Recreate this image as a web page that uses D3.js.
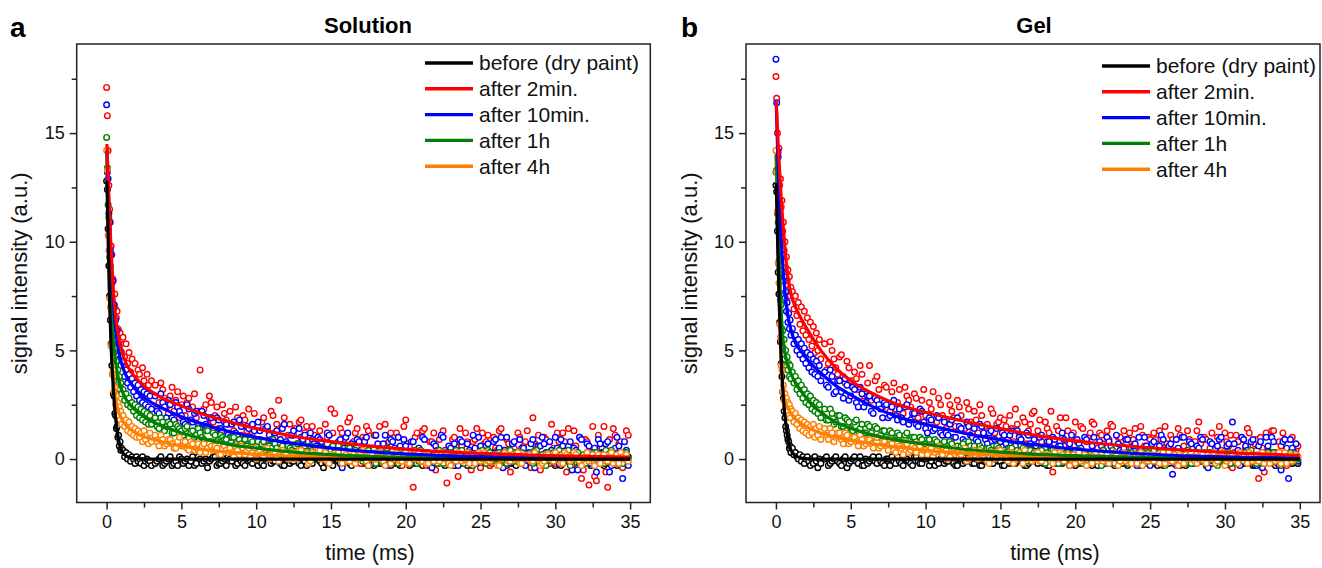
<!DOCTYPE html>
<html>
<head>
<meta charset="utf-8">
<script src="https://cdn.jsdelivr.net/npm/d3@7"></script>
<style>
  body { margin: 0; background: #fff; }
  svg { display: block; font-family: 'Liberation Sans', Arial, sans-serif; }
</style>
</head>
<body>
<svg id="chart" width="1322" height="568"></svg>
<script>
/* global d3 */

const seriesNames = ['before (dry paint)', 'after 2min.', 'after 10min.', 'after 1h', 'after 4h']
const seriesColors = ['#000000', '#ff0000', '#0000ff', '#008000', '#ff8000']
const xMajor = [0, 5, 10, 15, 20, 25, 30, 35]
const xMinor = [2.5, 7.5, 12.5, 17.5, 22.5, 27.5, 32.5]
const yMajor = [0, 5, 10, 15]
const yMinor = [2.5, 7.5, 12.5, 17.5]

// sample times (ms), first pass
const times = [
  0, 0.05, 0.1, 0.15, 0.2, 0.25, 0.3, 0.35, 0.4, 0.45, 0.5, 0.55, 0.6, 0.65, 0.7, 0.75, 0.8, 0.85, 0.9, 0.95, 1,
  1.1, 1.2, 1.3, 1.4, 1.5, 1.6, 1.7, 1.8, 1.9, 2, 2.1, 2.2, 2.3, 2.4, 2.5, 2.6, 2.7, 2.8, 2.9, 3,
  3.25, 3.5, 3.75, 4, 4.25, 4.5, 4.75, 5, 5.25, 5.5, 5.75, 6, 6.25, 6.5, 6.75, 7, 7.25, 7.5, 7.75, 8,
  8.25, 8.5, 8.75, 9, 9.25, 9.5, 9.75, 10, 10.25, 10.5, 10.75, 11, 11.25, 11.5, 11.75, 12,
  12.25, 12.5, 12.75, 13, 13.25, 13.5, 13.75, 14, 14.25, 14.5, 14.75, 15, 15.25, 15.5, 15.75, 16,
  16.25, 16.5, 16.75, 17, 17.25, 17.5, 17.75, 18, 18.25, 18.5, 18.75, 19, 19.25, 19.5, 19.75, 20,
  20.25, 20.5, 20.75, 21, 21.25, 21.5, 21.75, 22, 22.25, 22.5, 22.75, 23, 23.25, 23.5, 23.75, 24,
  24.25, 24.5, 24.75, 25, 25.25, 25.5, 25.75, 26, 26.25, 26.5, 26.75, 27, 27.25, 27.5, 27.75, 28,
  28.25, 28.5, 28.75, 29, 29.25, 29.5, 29.75, 30, 30.25, 30.5, 30.75, 31, 31.25, 31.5, 31.75, 32,
  32.25, 32.5, 32.75, 33, 33.25, 33.5, 33.75, 34, 34.25, 34.5, 34.75
]
// in-between sample times for the tail (ms)
const times2 = [
  3.375, 3.625, 3.875, 4.125, 4.375, 4.625, 4.875, 5.125,
  5.375, 5.625, 5.875, 6.125, 6.375, 6.625, 6.875, 7.125,
  7.375, 7.625, 7.875, 8.125, 8.375, 8.625, 8.875, 9.125,
  9.375, 9.625, 9.875, 10.125, 10.375, 10.625, 10.875, 11.125,
  11.375, 11.625, 11.875, 12.125, 12.375, 12.625, 12.875, 13.125,
  13.375, 13.625, 13.875, 14.125, 14.375, 14.625, 14.875, 15.125,
  15.375, 15.625, 15.875, 16.125, 16.375, 16.625, 16.875, 17.125,
  17.375, 17.625, 17.875, 18.125, 18.375, 18.625, 18.875, 19.125,
  19.375, 19.625, 19.875, 20.125, 20.375, 20.625, 20.875, 21.125,
  21.375, 21.625, 21.875, 22.125, 22.375, 22.625, 22.875, 23.125,
  23.375, 23.625, 23.875, 24.125, 24.375, 24.625, 24.875, 25.125,
  25.375, 25.625, 25.875, 26.125, 26.375, 26.625, 26.875, 27.125,
  27.375, 27.625, 27.875, 28.125, 28.375, 28.625, 28.875, 29.125,
  29.375, 29.625, 29.875, 30.125, 30.375, 30.625, 30.875, 31.125,
  31.375, 31.625, 31.875, 32.125, 32.375, 32.625, 32.875, 33.125,
  33.375, 33.625, 33.875, 34.125, 34.375, 34.625, 34.875
]

// ---- a: Solution, measured points ----
const solBlack = [
  12.8, 12.4, 10.6, 8.9, 7.5, 6.4, 5.3, 4.3, 3.9, 3.0, 2.9, 2.1, 2.0, 1.4, 1.5, 1.0, 1.1, 0.6, 0.8, 0.4, 0.5,
  0.4, 0.1, 0.3, 0.0, 0.2, -0.1, 0.1, 0.0, -0.2, 0.1, -0.1, 0.0, -0.2, 0.1, -0.3, -0.1, 0.0, -0.2, -0.1, -0.3,
  -0.2, 0.0, -0.3, -0.1, 0.1, -0.2, -0.3, 0.0, -0.1, -0.3, 0.1, -0.2, 0.0, -0.1, -0.4, 0.0,
  0.1, -0.2, -0.1, -0.3, 0.0, 0.1, -0.2, -0.1, -0.3, 0.0, -0.2, 0.1, -0.1, -0.3, 0.0, -0.2,
  -0.1, 0.1, -0.3, 0.0, -0.2, -0.1, 0.1, -0.3, -0.1, 0.0, -0.2, 0.1, -0.1, -0.4, 0.0, -0.2,
  0.1, -0.1, -0.3, 0.0, -0.2, 0.1, -0.1, -0.2, 0.0, -0.3, 0.1, -0.1, -0.2, 0.0, -0.1, -0.3,
  0.1, -0.2, 0.0, -0.1, -0.3, 0.1, -0.2, 0.0, -0.1, 0.1, -0.3, -0.1, 0.0, -0.2, 0.1, -0.1,
  -0.3, 0.0, -0.2, 0.1, -0.1, -0.2, 0.0, -0.3, 0.1, -0.1, 0.0, -0.2, -0.1, 0.1, -0.3, 0.0,
  -0.2, -0.1, 0.1, -0.2, 0.0, -0.3, -0.1, 0.1, -0.2, 0.0, -0.1, -0.3, 0.1, -0.2, 0.0, -0.1,
  -0.2, 0.1, -0.3, 0.0, -0.1, -0.2, 0.1, 0.0, -0.3, -0.1, 0.0, -0.2, 0.1, -0.1, -0.2
]
const solBlack2 = [
  -0.1, 0.1, -0.2, 0.0, -0.3, -0.1, 0.1, -0.2, 0.0, -0.1, -0.3, 0.1, -0.2, 0.0, -0.1, 0.1,
  -0.3, -0.2, 0.0, 0.1, -0.1, -0.3, 0.0, -0.2, 0.1, -0.1, 0.0, -0.3, -0.2, 0.1, 0.0, -0.1,
  0.1, -0.2, -0.3, 0.0, -0.1, 0.1, -0.2, 0.0, -0.3, -0.1, 0.1, 0.0, -0.2, -0.1, 0.1, -0.3,
  0.0, -0.2, 0.1, -0.1, -0.3, 0.0, 0.1, -0.2, -0.1, 0.0, -0.3, 0.1, -0.2, -0.1, 0.0, 0.1,
  -0.2, -0.3, 0.0, 0.1, -0.1, -0.2, 0.0, -0.3, 0.1, -0.1, 0.0, -0.2, 0.1, -0.3, -0.1, 0.0,
  0.1, -0.2, -0.1, -0.3, 0.0, 0.1, -0.2, 0.0, -0.1, -0.3, 0.1, -0.2, 0.0, -0.1, 0.1, -0.2,
  -0.3, 0.0, 0.1, -0.1, -0.2, 0.0, -0.3, 0.1, -0.1, -0.2, 0.0, 0.1, -0.3, -0.1, 0.0, -0.2,
  0.1, -0.1, -0.2, 0.0, -0.3, 0.1, -0.1, 0.0, -0.2, -0.1, 0.1, -0.3, 0.0, -0.2, 0.1
]
const solRed = [
  17.1, 15.8, 14.2, 12.6, 11.5, 10.9, 9.8, 9.4, 8.3, 8.2, 7.1, 7.6, 6.9, 6.5, 6.8, 6.0, 5.9, 5.2, 5.8, 5.5, 4.9,
  5.6, 4.7, 5.3, 4.4, 4.9, 4.0, 4.6, 3.7, 4.4, 3.5, 4.1, 3.9, 3.2, 4.2, 3.6, 2.9, 3.9, 3.4, 3.0, 3.6,
  3.4, 2.6, 3.2, 2.4, 2.9, 2.2, 3.1, 2.5, 2.0, 2.8, 2.4, 1.9, 4.1, 2.3, 1.6, 2.6,
  2.0, 1.4, 2.5, 1.8, 2.2, 1.3, 1.9, 1.1, 1.8, 2.3, 1.2, 1.6, 0.9, 1.9, 1.4, 2.2,
  1.0, 2.7, 1.5, 0.6, 1.6, 1.1, 0.5, 1.8, 1.2, 0.4, 1.5, 0.9, 1.3, 0.2, 1.0, 2.3,
  2.1, 0.6, 1.2, 0.1, 1.9, 0.8, 1.4, -0.2, 0.9, 1.3, 0.3, 1.1, 1.5, 0.0, 0.7, 1.2,
  0.4, 1.0, -0.3, 1.8, 0.6, -1.3, 1.2, 0.3, 1.4, 0.0, 0.8, -0.5, 0.9, 1.3, -1.1, 0.5,
  1.0, -0.8, 0.6, 1.2, 0.2, 0.8, 1.4, -0.4, 0.7, 1.1, -0.2, 0.5, 1.3, 0.3, 0.9, -0.6,
  0.5, 1.2, -0.1, 0.8, 0.2, 1.9, 0.6, -0.5, 1.0, 0.3, 1.6, -0.2, 0.8, 1.2, -0.6, 0.4,
  1.3, 0.1, -0.9, 0.9, -1.2, 1.5, -1.0, 0.6, 1.5, -1.3, 0.3, 1.1, 0.7, -0.4, 1.3
]
const solRed2 = [
  2.3, 3.5, 2.8, 2.1, 3.3, 2.7, 1.9, 2.9, 2.6, 1.7, 3.0, 2.2, 1.5, 2.5, 2.9, 1.7,
  2.4, 1.2, 2.1, 1.6, 1.1, 2.4, 1.7, 2.0, 1.3, 0.9, 2.1, 1.5, 1.7, 0.8, 1.2, 2.0,
  1.6, 0.7, 1.9, 1.1, 0.5, 1.4, 1.7, 0.8, 1.5, 0.6, 1.1, 0.3, 0.7, 1.6, 0.4, 1.2,
  0.3, 1.4, 0.9, 1.7, 0.5, 1.2, 0.0, 1.0, 1.5, 0.2, 1.1, 0.6, 0.1, 1.6, 0.8, 0.4,
  1.2, 0.3, 1.5, 0.7, 0.0, 1.0, 0.5, 1.3, -0.3, 0.8, 1.2, 0.2, 1.1, 0.4, -0.2, 0.9,
  0.6, 1.4, 0.0, 0.8, -0.5, 0.9, 0.3, 1.2, 0.8, -0.3, 1.0, 0.4, 1.4, 0.1, 0.7, -0.1,
  0.3, 1.0, 0.6, 1.3, -0.4, 0.7, 1.1, 0.2, 0.9, -0.2, 0.5, 1.2, 0.1, 0.8, 1.4, -0.3,
  0.6, 1.0, -0.5, 0.8, 0.3, -0.8, 1.1, 0.5, -0.6, 0.9, 1.4, 0.0, 0.8, 0.2, 1.1
]
const solBlue = [
  16.3, 13.2, 12.9, 11.3, 10.9, 9.6, 9.4, 8.1, 8.2, 6.9, 7.1, 6.1, 6.4, 5.5, 5.9, 5.0, 5.3, 4.6, 5.0, 4.3, 4.7,
  4.5, 3.8, 4.1, 3.5, 3.9, 3.3, 3.7, 3.1, 3.5, 2.9, 3.4, 2.7, 3.2, 2.6, 3.1, 2.5, 3.0, 2.4, 2.9, 2.3,
  2.9, 2.1, 2.6, 1.9, 2.5, 1.8, 2.4, 2.0, 1.6, 2.3, 1.7, 2.2, 1.4, 2.0, 1.5, 1.9,
  1.2, 1.8, 1.3, 1.6, 1.0, 1.7, 1.1, 1.5, 0.9, 1.4, 1.6, 0.8, 1.3, 0.7, 1.5, 0.9,
  1.2, 0.5, 1.4, 0.8, 0.4, 1.3, 0.7, 1.0, 1.1, 0.3, 0.9, 0.6, 0.9, 0.2, 1.2, 0.5,
  0.3, 0.8, -0.4, 1.0, 0.6, 0.1, 0.9, 0.4, 0.8, -0.1, 0.5, 1.1, 0.2, 0.7, -0.3, 0.9,
  0.5, 1.0, 0.1, 0.6, -0.2, 0.8, 0.4, 0.0, 0.9, 0.2, -0.4, 0.6, 0.3, 1.0, 0.0, 0.5,
  0.7, -0.3, 0.8, 0.1, 0.4, 1.1, -0.2, 0.6, 0.0, 0.7, 0.3, 0.9, 0.5, -0.4, 1.0, 0.2,
  0.8, 0.1, 0.5, -0.3, 0.3, 0.9, -0.1, 0.6, 0.7, 0.0, 0.4, 1.0, -0.2, 0.6, 0.2, 0.8,
  0.5, -0.5, 0.9, 0.1, 0.6, 0.2, -0.6, 0.7, 0.3, 0.8, -0.3, 0.5, 0.6, -0.9, 0.4
]
const solBlue2 = [
  2.2, 3.0, 2.4, 2.7, 1.9, 2.6, 2.2, 1.7, 2.5, 1.8, 2.1, 1.5, 2.2, 1.6, 1.9, 1.3,
  1.9, 1.4, 1.7, 1.1, 1.6, 1.2, 1.8, 0.9, 1.5, 1.0, 1.3, 1.7, 0.8, 1.4, 1.1, 0.6,
  1.3, 0.9, 1.6, 0.7, 1.1, 0.5, 1.4, 0.9, 0.4, 1.2, 0.7, 1.0, 0.8, 0.3, 1.1, 0.6,
  0.2, 0.9, 0.5, 1.2, 0.7, 0.0, 0.8, 0.3, 1.0, 0.4, -0.2, 0.7, 0.5, 1.1, 0.2, 0.8,
  -0.1, 0.6, 0.9, 0.3, 0.8, 0.1, 0.5, 1.0, 0.3, -0.3, 0.7, 0.4, 1.1, 0.2, 0.6, -0.1,
  0.4, 0.9, 0.1, 0.7, -0.3, 0.5, 1.0, 0.2, 0.6, 0.0, 0.8, 0.3, 1.0, 0.4, -0.2, 0.7,
  0.2, 0.9, 0.5, 0.0, 0.7, -0.4, 0.6, 1.0, 0.3, 0.8, -0.1, 0.5, 0.9, 0.2, 0.6, -0.5,
  0.4, 1.0, 0.1, 0.7, -0.2, 0.5, 0.9, 0.3, 0.7, -0.6, 0.4, 1.0, 0.2, 0.8, -0.3
]
const solGreen = [
  14.8, 13.4, 11.7, 11.1, 9.3, 8.9, 7.4, 7.0, 6.0, 5.8, 4.9, 5.1, 4.3, 4.5, 3.8, 4.1, 3.5, 3.8, 3.2, 3.5, 3.0,
  3.2, 2.7, 3.0, 2.5, 2.8, 2.4, 2.6, 2.2, 2.5, 2.0, 2.4, 1.9, 2.3, 1.8, 2.2, 1.7, 2.1, 1.6, 2.0, 1.6,
  1.9, 1.4, 1.7, 1.5, 1.6, 1.2, 1.5, 1.3, 1.4, 1.0, 1.3, 1.1, 1.2, 0.9, 1.3, 0.8,
  1.1, 0.7, 1.0, 0.9, 0.6, 1.0, 0.8, 0.7, 0.9, 0.5, 0.8, 0.6, 0.4, 0.8, 0.6, 0.5,
  0.7, 0.3, 0.6, 0.4, 0.5, 0.2, 0.7, 0.3, 0.6, 0.1, 0.4, 0.5, 0.2, 0.5, 0.0, 0.4,
  0.3, 0.6, 0.1, 0.2, 0.5, -0.1, 0.3, 0.2, 0.0, 0.4, 0.2, -0.2, 0.3, 0.1, 0.5, -0.1,
  0.2, -0.2, 0.4, 0.1, 0.3, 0.0, -0.2, 0.4, 0.1, 0.3, -0.1, 0.2, 0.4, -0.2, 0.1, 0.3,
  -0.1, 0.2, 0.4, 0.0, 0.3, -0.3, 0.1, 0.2, 0.0, 0.4, -0.1, 0.2, 0.3, 0.1, -0.2, 0.4,
  -0.1, 0.2, 0.3, 0.0, 0.2, -0.2, 0.4, 0.1, 0.0, 0.3, -0.1, 0.2, 0.4, -0.1, 0.1, -0.3,
  0.2, 0.3, 0.0, -0.2, 0.1, -0.1, 0.3, 0.0, -0.2, 0.2, 0.4, 0.1, 0.0, -0.2, 0.3
]
const solGreen2 = [
  1.5, 1.9, 1.3, 1.7, 1.2, 1.6, 1.4, 1.1, 1.5, 1.2, 1.0, 1.4, 1.0, 1.3, 0.8, 1.2,
  0.8, 1.1, 0.9, 0.6, 1.0, 0.7, 0.9, 0.5, 0.6, 0.9, 0.5, 0.8, 0.7, 0.4, 0.6, 0.9,
  0.5, 0.7, 0.3, 0.6, 0.4, 0.6, 0.2, 0.5, 0.3, 0.6, 0.2, 0.4, 0.5, 0.1, 0.3, 0.6,
  0.2, 0.4, 0.0, 0.5, 0.1, 0.4, 0.2, -0.1, 0.3, 0.0, 0.5, 0.2, -0.1, 0.3, 0.1, 0.4,
  0.2, 0.0, 0.3, -0.2, 0.1, 0.4, -0.1, 0.2, 0.3, 0.0, 0.2, -0.2, 0.1, 0.3, -0.1, 0.2,
  0.4, 0.0, -0.2, 0.3, 0.1, 0.2, -0.1, 0.4, -0.2, 0.3, 0.1, 0.0, 0.2, -0.1, 0.4, 0.1,
  0.3, -0.2, 0.0, 0.2, 0.1, 0.4, -0.1, 0.2, -0.3, 0.1, 0.3, 0.0, 0.2, 0.0, 0.4, -0.1,
  0.1, -0.2, 0.2, 0.3, 0.0, 0.3, -0.1, 0.2, 0.4, -0.1, 0.1, -0.2, 0.2, 0.3, 0.0
]
const solOrange = [
  14.2, 13.3, 10.3, 9.6, 7.4, 7.0, 5.2, 5.3, 3.9, 4.1, 3.1, 3.3, 2.5, 2.9, 2.2, 2.6, 2.0, 2.4, 1.8, 2.2, 1.6,
  2.0, 1.5, 1.8, 1.3, 1.7, 1.2, 1.5, 1.1, 1.4, 1.0, 1.3, 1.0, 1.2, 0.8, 1.3, 0.9, 1.1, 0.7, 1.2, 0.8,
  1.1, 0.6, 0.9, 0.7, 0.9, 0.5, 0.8, 0.6, 0.8, 0.4, 0.7, 0.5, 0.3, 0.7, 0.5, 0.6,
  0.6, 0.2, 0.5, 0.4, 0.5, 0.1, 0.4, 0.6, 0.2, 0.5, 0.3, 0.0, 0.4, 0.1, 0.5, 0.2,
  0.3, -0.1, 0.4, 0.2, 0.0, 0.3, 0.1, 0.4, 0.2, -0.2, 0.3, 0.1, 0.4, 0.0, -0.1, 0.2,
  0.1, 0.3, -0.2, 0.2, -0.1, 0.2, 0.0, 0.3, 0.1, -0.3, 0.2, 0.0, 0.3, -0.1, 0.1, -0.2,
  0.0, 0.2, -0.1, 0.3, -0.2, 0.1, 0.2, -0.1, 0.2, -0.2, 0.0, 0.3, -0.1, 0.1, 0.2, -0.3,
  0.1, 0.3, -0.1, 0.0, -0.2, 0.2, 0.1, -0.1, 0.3, -0.1, 0.0, 0.2, -0.3, 0.1, 0.2, -0.1,
  0.0, 0.3, -0.2, 0.1, 0.2, -0.1, 0.1, -0.3, -0.1, 0.2, 0.0, 0.3, 0.1, -0.2, 0.2, -0.1,
  0.3, 0.0, -0.3, 0.1, -0.1, 0.2, 0.1, -0.2, 0.2, -0.1, 0.3, 0.0, -0.2, 0.1, 0.2
]
const solOrange2 = [
  0.8, 1.1, 0.6, 0.9, 0.7, 0.5, 1.0, 0.6, 0.5, 0.8, 0.4, 0.7, 0.6, 0.3, 0.7, 0.4,
  0.5, 0.2, 0.6, 0.3, 0.3, 0.6, 0.2, 0.5, 0.4, 0.1, 0.5, 0.3, 0.2, 0.5, 0.0, 0.3,
  0.1, 0.4, 0.2, 0.0, 0.3, 0.0, 0.4, 0.1, 0.3, -0.1, 0.2, 0.4, 0.0, 0.3, -0.2, 0.1,
  0.2, 0.0, 0.3, -0.1, 0.1, -0.2, 0.2, 0.4, -0.1, 0.2, 0.0, 0.3, 0.1, -0.3, 0.2, 0.0,
  0.3, -0.1, 0.1, -0.2, 0.2, 0.0, 0.3, -0.1, -0.2, 0.1, -0.1, 0.2, 0.3, 0.0, -0.2, 0.1,
  -0.1, 0.2, 0.0, 0.3, 0.1, -0.2, 0.3, 0.0, 0.2, -0.1, 0.1, -0.3, 0.0, 0.3, -0.1, 0.2,
  0.1, -0.2, 0.2, 0.0, -0.1, 0.3, 0.0, -0.2, 0.2, 0.0, -0.1, 0.1, -0.2, 0.3, 0.1, 0.0,
  0.2, -0.1, 0.0, 0.3, 0.0, -0.3, 0.2, 0.1, -0.1, 0.1, -0.2, 0.2, 0.3, 0.0, -0.1
]

// ---- b: Gel, measured points ----
const gelBlack = [
  12.6, 12.3, 10.5, 8.6, 7.6, 6.3, 5.4, 4.4, 3.8, 3.1, 2.8, 2.2, 1.9, 1.5, 1.3, 1.1, 0.9, 0.8, 0.5, 0.6, 0.3,
  0.5, 0.2, 0.3, 0.1, 0.0, 0.2, -0.1, 0.1, -0.2, 0.0, 0.1, -0.1, -0.3, 0.0, -0.2, 0.1, -0.1, -0.4, 0.0, -0.2,
  0.0, -0.3, -0.1, 0.1, -0.2, 0.0, -0.4, -0.1, 0.1, -0.2, -0.3, 0.0, -0.1, 0.1, -0.2, -0.1,
  -0.3, 0.0, 0.1, -0.2, -0.1, -0.3, 0.0, -0.2, 0.1, -0.1, -0.2, 0.0, -0.3, 0.1, -0.1, 0.0,
  -0.2, -0.1, 0.1, -0.3, 0.0, -0.2, -0.1, 0.1, -0.2, 0.0, -0.3, -0.1, 0.1, -0.2, 0.0, -0.1,
  -0.3, 0.1, -0.1, -0.2, 0.0, 0.1, -0.3, -0.1, 0.0, -0.2, 0.1, -0.1, -0.3, 0.0, -0.2, 0.1,
  -0.1, 0.0, -0.2, -0.3, 0.1, -0.1, 0.0, -0.2, 0.1, -0.3, -0.1, 0.0, -0.2, 0.1, -0.1, -0.2,
  0.0, -0.3, 0.1, -0.1, -0.2, 0.0, 0.1, -0.2, -0.1, -0.3, 0.0, 0.1, -0.2, -0.1, 0.0, -0.3,
  0.1, -0.1, -0.2, 0.0, -0.1, 0.1, -0.3, -0.2, 0.0, -0.1, 0.1, -0.2, 0.0, -0.3, -0.1, 0.1,
  -0.2, 0.0, -0.1, -0.3, 0.1, -0.2, 0.0, -0.1, -0.2, 0.1, -0.4, -0.1, 0.0, -0.2, -0.1
]
const gelBlack2 = [
  0.1, -0.2, 0.0, -0.1, -0.3, 0.1, -0.2, 0.0, -0.1, 0.1, -0.3, -0.2, 0.0, -0.1, 0.1, -0.2,
  0.0, -0.3, -0.1, 0.1, -0.2, 0.0, -0.1, -0.3, 0.1, -0.2, 0.0, 0.1, -0.1, -0.3, -0.2, 0.0,
  -0.1, 0.1, -0.2, -0.3, 0.0, -0.1, 0.1, -0.2, 0.0, -0.3, -0.1, 0.1, -0.2, 0.0, -0.1, -0.3,
  0.1, -0.2, 0.0, -0.1, 0.1, -0.3, -0.2, 0.0, -0.1, 0.1, -0.2, -0.3, 0.0, 0.1, -0.1, -0.2,
  0.0, -0.3, 0.1, -0.1, -0.2, 0.0, 0.1, -0.3, -0.1, 0.0, -0.2, 0.1, -0.1, -0.3, 0.0, -0.2,
  0.1, -0.1, 0.0, -0.2, -0.3, 0.1, -0.1, 0.0, -0.2, 0.1, -0.3, -0.1, 0.0, -0.2, 0.1, -0.1,
  -0.3, 0.0, -0.2, 0.1, -0.1, 0.0, -0.3, -0.2, 0.1, -0.1, 0.0, -0.2, -0.3, 0.1, -0.1, 0.0,
  -0.2, 0.1, -0.3, -0.1, 0.0, -0.2, 0.1, -0.1, -0.3, 0.0, -0.2, 0.1, -0.1, 0.0, -0.2
]
const gelRed = [
  17.6, 16.6, 15.0, 14.1, 14.3, 12.6, 12.9, 11.6, 11.9, 10.5, 10.9, 9.6, 10.0, 8.8, 9.3, 8.2, 8.7, 7.8, 8.4, 7.5, 7.9,
  7.7, 6.9, 7.5, 6.6, 7.2, 6.2, 7.0, 5.9, 6.8, 5.7, 6.5, 5.5, 6.3, 5.2, 6.1, 4.9, 5.8, 5.0, 5.5, 4.6,
  5.3, 4.4, 5.0, 4.2, 4.7, 3.8, 4.5, 3.6, 4.0, 3.2, 3.9, 3.0, 4.3, 2.9, 3.8, 2.7,
  3.4, 2.5, 3.1, 2.3, 3.2, 2.1, 2.9, 2.4, 3.0, 1.9, 2.7, 2.0, 2.6, 3.1, 1.7, 2.5,
  1.8, 2.9, 2.2, 1.5, 2.4, 1.3, 2.6, 1.7, 2.2, 1.2, 2.0, 1.5, 1.0, 2.1, 1.6, 1.9,
  1.8, 0.9, 1.4, 2.3, 1.1, 1.9, 0.7, 1.6, 2.2, 1.3, 0.8, 1.7, 1.2, -0.6, 1.5, 1.9,
  0.6, 1.3, 0.9, 1.7, 0.4, 1.4, 0.8, 1.2, 1.6, 0.5, 1.1, 0.2, 0.9, 1.5, 0.3, 1.0,
  1.3, 0.1, 0.8, 1.4, 0.4, 1.1, -0.2, 0.9, 1.2, 0.3, 0.7, 1.5, 0.2, 0.9, -0.3, 1.1,
  0.6, 1.3, 0.1, 0.8, 1.7, 0.2, 0.9, 0.5, -0.1, 1.0, 0.4, 1.2, 0.6, -0.4, 1.1, 0.3,
  0.9, 1.4, 0.0, 0.7, -0.9, 0.5, 1.2, 0.2, 1.3, -0.2, 0.6, 0.9, 0.1, 1.0, 0.4
]
const gelRed2 = [
  4.1, 5.4, 4.6, 3.9, 4.8, 3.5, 4.2, 3.3, 3.7, 4.3, 2.9, 3.5, 2.7, 3.6, 3.2, 2.4,
  3.3, 2.2, 3.5, 2.6, 2.0, 3.3, 2.7, 1.9, 2.8, 2.2, 3.2, 1.8, 2.3, 1.5, 2.8, 2.0,
  1.4, 2.5, 1.9, 2.7, 2.0, 1.4, 2.3, 1.2, 1.8, 2.5, 1.1, 1.6, 2.3, 1.2, 1.7, 0.9,
  1.5, 2.0, 0.8, 1.6, 0.9, 1.7, 1.3, 2.1, 1.0, 1.8, 0.5, 1.4, 2.2, 0.7, 1.3, 1.0,
  1.9, 0.5, 1.2, 0.8, 1.5, 0.3, 1.0, 1.7, 0.4, 1.2, 0.7, 1.3, 1.6, 0.2, 1.0, 0.6,
  0.5, 1.2, 0.9, -0.1, 1.5, 0.6, 1.0, 0.2, 0.9, 1.3, 0.0, 0.7, 1.1, 0.4, 1.4, 0.2,
  -0.2, 0.9, 0.5, 1.3, 0.7, 1.0, 0.1, 1.2, 0.4, 1.5, 0.2, 0.8, 1.1, 0.3, 0.8, -0.1,
  0.5, 1.2, 0.6, 0.9, 1.0, -0.6, 0.4, 1.3, 0.3, 0.8, 1.2, -0.3, 0.9, 0.2, 0.6
]
const gelBlue = [
  18.4, 16.4, 14.2, 13.9, 12.0, 11.9, 10.4, 10.5, 9.3, 9.4, 8.2, 8.4, 7.4, 7.7, 6.8, 7.2, 6.3, 6.7, 6.0, 6.4, 5.7,
  6.0, 5.3, 5.7, 5.0, 5.5, 4.8, 5.3, 4.6, 5.1, 4.4, 4.9, 4.2, 4.8, 4.0, 4.6, 3.9, 4.5, 3.8, 4.3, 3.6,
  4.0, 3.3, 3.8, 3.1, 3.6, 2.8, 3.4, 2.9, 3.2, 2.4, 3.0, 2.6, 2.9, 2.1, 2.7, 2.3,
  2.6, 1.9, 2.4, 2.0, 2.3, 1.7, 2.5, 1.8, 2.1, 1.5, 2.2, 1.4, 1.9, 1.3, 2.0, 1.2,
  1.7, 1.1, 1.8, 1.0, 1.5, 0.9, 1.7, 1.1, 1.4, 0.8, 1.5, 0.9, 1.2, 0.6, 1.4, 0.8,
  1.1, 0.5, 1.3, 0.6, 1.0, 0.3, 1.2, 0.7, 0.9, 0.2, 1.1, 0.5, 0.8, 1.0, 0.1, 0.6,
  0.9, 0.2, 1.1, 0.4, 0.7, -0.1, 0.9, 0.3, 1.0, 0.2, 0.6, -0.2, 0.8, 0.1, 1.1, 0.4,
  0.5, 0.9, -0.1, 0.7, 1.0, 0.3, 0.6, -0.3, 0.8, 0.2, 1.1, 0.4, 0.6, -0.7, 0.9, 0.3,
  1.0, 0.1, 0.7, -0.2, 0.5, 0.9, 0.2, 0.8, -0.1, 0.6, 1.0, 0.3, 0.7, 1.7, 0.2, -0.3,
  0.9, 0.4, 0.8, 0.0, 0.6, -0.4, 1.0, 0.3, 0.8, 0.2, -0.5, 0.9, -0.9, 0.5, 0.7
]
const gelBlue2 = [
  3.4, 4.1, 3.0, 3.6, 3.1, 3.7, 2.7, 3.3, 2.6, 3.3, 2.4, 2.9, 2.2, 2.8, 2.5, 1.9,
  2.5, 2.0, 2.7, 1.8, 1.9, 2.4, 1.6, 2.1, 1.6, 2.3, 1.7, 1.2, 1.8, 1.4, 1.9, 1.1,
  1.2, 1.6, 1.0, 1.9, 1.4, 0.8, 1.5, 1.0, 0.9, 1.6, 1.2, 0.7, 1.3, 0.9, 0.5, 1.2,
  0.7, 1.1, 0.4, 1.3, 0.9, 0.5, 1.1, 0.4, 0.6, 1.0, 0.3, 0.8, 0.4, 0.9, 0.6, 1.2,
  0.3, 0.7, 0.0, 0.9, 0.5, 1.0, 0.2, 0.6, 0.1, 0.8, 0.4, 1.0, 0.6, -0.1, 0.7, 0.3,
  0.9, 0.2, 0.6, -0.3, 0.4, 1.0, 0.2, 0.7, 0.0, 0.6, 0.9, 0.3, 0.7, -0.2, 0.5, 1.0,
  0.3, 0.8, 0.0, 0.6, 1.0, 0.2, -0.4, 0.7, 0.5, 0.9, 0.1, 0.6, -0.2, 0.7, 0.4, 1.0,
  0.6, 0.1, 0.9, -0.3, 0.8, 0.3, 0.6, 1.0, 0.2, -0.3, 0.8, 0.5, 0.9, 0.3, -0.1
]
const gelGreen = [
  13.2, 13.3, 11.3, 10.9, 9.1, 8.7, 7.3, 7.1, 6.0, 5.9, 5.1, 5.5, 4.6, 5.0, 4.3, 4.7, 4.1, 4.4, 3.8, 4.3, 3.7,
  4.0, 3.5, 3.8, 3.2, 3.6, 3.0, 3.4, 2.8, 3.2, 2.6, 3.0, 2.5, 2.9, 2.3, 2.7, 2.2, 2.6, 2.1, 2.5, 1.9,
  2.3, 1.8, 2.1, 1.7, 2.0, 1.5, 1.8, 1.4, 1.7, 1.3, 1.6, 1.2, 1.5, 1.0, 1.4, 1.1,
  1.3, 0.9, 1.2, 0.8, 1.1, 0.7, 1.2, 0.9, 1.0, 0.6, 0.9, 0.7, 0.9, 0.5, 0.8, 0.6,
  0.8, 0.4, 0.7, 0.5, 0.3, 0.7, 0.5, 0.6, 0.6, 0.2, 0.5, 0.4, 0.5, 0.1, 0.6, 0.3,
  0.4, 0.0, 0.5, 0.3, 0.2, 0.5, -0.1, 0.4, 0.3, 0.1, 0.4, -0.2, 0.2, 0.4, 0.0, 0.3,
  -0.1, 0.3, 0.2, 0.1, 0.4, -0.2, 0.2, 0.0, 0.3, 0.1, -0.3, 0.2, 0.0, 0.4, 0.1, -0.1,
  0.2, -0.2, 0.3, 0.1, -0.1, 0.3, 0.0, 0.2, 0.4, -0.1, 0.1, -0.3, 0.2, 0.0, 0.3, -0.1,
  0.1, 0.4, -0.2, 0.2, -0.1, 0.2, 0.0, 0.3, 0.2, -0.3, 0.1, 0.0, 0.3, 0.1, -0.2, 0.2,
  -0.1, 0.2, 0.4, 0.0, 0.1, -0.2, 0.2, -0.1, 0.3, 0.0, -0.3, 0.2, 0.1, -0.1, 0.2
]
const gelGreen2 = [
  1.8, 2.3, 1.6, 2.0, 1.5, 1.9, 1.7, 1.3, 1.8, 1.4, 1.2, 1.6, 1.2, 1.5, 1.0, 1.3,
  1.0, 1.3, 0.9, 1.2, 0.8, 1.1, 0.6, 1.0, 0.8, 1.0, 0.5, 0.9, 0.6, 0.9, 0.4, 0.7,
  0.5, 0.8, 0.3, 0.6, 0.6, 0.3, 0.8, 0.4, 0.3, 0.6, 0.2, 0.5, 0.4, 0.2, 0.5, 0.1,
  0.3, 0.5, 0.1, 0.4, 0.4, 0.0, 0.3, 0.2, 0.2, 0.4, -0.1, 0.3, 0.1, 0.3, -0.2, 0.4,
  0.3, 0.0, 0.2, -0.1, 0.2, 0.3, -0.1, 0.1, 0.0, 0.2, 0.4, -0.1, 0.3, -0.2, 0.1, 0.2,
  0.0, 0.3, -0.1, 0.2, 0.2, -0.2, 0.3, 0.0, 0.1, 0.3, -0.2, 0.2, 0.0, -0.1, 0.3, 0.1,
  0.2, -0.2, 0.0, 0.3, 0.1, 0.3, -0.1, 0.0, 0.2, -0.1, 0.3, 0.1, -0.2, 0.1, 0.2, 0.0,
  0.3, -0.1, 0.1, -0.2, 0.2, 0.0, 0.3, -0.1, 0.0, 0.2, -0.2, 0.1, 0.3, -0.1, 0.0
]
const gelOrange = [
  14.2, 13.2, 11.4, 9.0, 8.1, 6.2, 5.6, 4.3, 4.1, 3.1, 3.4, 2.7, 3.0, 2.4, 2.8, 2.2, 2.6, 2.0, 2.5, 1.9, 2.3,
  2.2, 1.7, 2.1, 1.6, 1.9, 1.4, 1.8, 1.3, 1.7, 1.2, 1.6, 1.1, 1.5, 1.2, 1.6, 1.0, 1.4, 1.1, 1.5, 0.9,
  1.4, 0.9, 1.2, 1.0, 1.2, 0.7, 1.1, 0.8, 1.0, 0.6, 0.9, 0.7, 0.9, 0.5, 1.0, 0.6,
  0.8, 0.4, 0.7, 0.3, 0.6, 0.2, 0.7, 0.4, 0.5, 0.7, 0.2, 0.4, 0.6, 0.1, 0.4, 0.3,
  0.5, 0.0, 0.4, 0.2, 0.1, 0.4, -0.1, 0.3, 0.4, 0.0, 0.2, 0.3, -0.2, 0.3, 0.1, 0.4,
  0.2, -0.1, 0.3, 0.0, 0.3, -0.2, 0.2, 0.1, 0.0, 0.3, -0.1, 0.2, 0.2, -0.2, 0.1, 0.3,
  -0.1, 0.2, 0.0, -0.2, 0.3, 0.0, -0.3, 0.1, 0.2, -0.1, 0.3, 0.0, -0.2, 0.1, 0.2, -0.1,
  0.3, 0.0, -0.2, 0.2, 0.1, -0.3, 0.2, 0.0, -0.1, 0.2, 0.1, -0.2, 0.3, -0.1, 0.0, 0.2,
  -0.2, 0.1, 0.3, -0.1, 0.0, 0.2, -0.2, 0.1, 0.3, -0.1, 0.1, -0.3, 0.0, 0.2, -0.1, 0.3,
  0.1, -0.2, 0.2, 0.0, -0.1, 0.3, 0.0, -0.2, 0.2, 0.0, -0.2, 0.3, 0.1, -0.1, 0.2
]
const gelOrange2 = [
  1.1, 1.4, 0.8, 1.2, 0.9, 1.2, 0.7, 1.0, 0.8, 1.1, 0.6, 0.9, 0.7, 1.0, 0.5, 0.8,
  0.6, 0.9, 0.4, 0.7, 0.5, 0.8, 0.3, 0.6, 0.3, 0.6, 0.4, 0.2, 0.5, 0.3, 0.6, 0.2,
  0.4, 0.1, 0.5, 0.3, 0.2, 0.5, 0.0, 0.3, 0.1, 0.4, 0.2, -0.1, 0.3, 0.0, 0.4, 0.1,
  0.0, 0.3, -0.2, 0.2, 0.1, 0.4, 0.0, -0.1, 0.3, -0.1, 0.2, 0.1, -0.1, 0.3, 0.0, 0.2,
  0.1, -0.3, 0.2, 0.0, -0.1, 0.2, 0.1, -0.2, 0.3, 0.0, -0.1, 0.2, 0.0, 0.3, -0.3, 0.1,
  -0.1, 0.2, 0.1, -0.2, 0.3, 0.0, -0.1, 0.2, 0.1, -0.2, 0.3, 0.0, -0.1, 0.2, -0.3, 0.1,
  0.2, 0.0, 0.1, -0.2, 0.3, -0.1, 0.2, 0.0, -0.2, 0.1, 0.3, -0.1, 0.2, 0.0, -0.2, 0.1,
  0.0, 0.3, -0.1, 0.2, 0.1, -0.2, 0.2, 0.0, -0.1, 0.3, 0.0, -0.2, 0.2, 0.0, 0.1
]

// fitted decay curves, read at these times (ms)
const fitTimes = [0.02, 0.1, 0.2, 0.3, 0.45, 0.6, 0.8, 1, 1.3, 1.7, 2.2, 3, 4, 5, 6.5, 8, 10, 12.5, 15, 18, 21, 25, 30, 35]

const solBlackFit = [12.8, 10.2, 7.2, 5.2, 3.2, 1.9, 0.9, 0.4, 0.14, 0.05, 0.015, 0, 0, 0, 0, 0, 0, 0, 0, 0, 0, 0, 0, 0]
const solRedFit = [14.5, 13.0, 11.2, 9.6, 7.8, 6.6, 5.6, 5.0, 4.4, 3.95, 3.55, 3.1, 2.72, 2.45, 2.05, 1.75, 1.4, 1.05, 0.8, 0.57, 0.4, 0.26, 0.15, 0.09]
const solBlueFit = [14.2, 12.6, 10.8, 9.2, 7.3, 6.0, 5.0, 4.4, 3.85, 3.4, 3.0, 2.6, 2.25, 1.95, 1.6, 1.3, 1.0, 0.72, 0.5, 0.32, 0.2, 0.11, 0.05, 0.02]
const solGreenFit = [14.2, 12.0, 9.6, 7.7, 5.6, 4.5, 3.7, 3.2, 2.75, 2.4, 2.1, 1.75, 1.45, 1.2, 0.92, 0.7, 0.5, 0.32, 0.2, 0.11, 0.06, 0.03, 0.01, 0]
const solOrangeFit = [13.8, 10.8, 7.8, 5.6, 3.7, 2.8, 2.2, 1.85, 1.55, 1.32, 1.12, 0.92, 0.74, 0.6, 0.44, 0.33, 0.22, 0.13, 0.08, 0.045, 0.025, 0.01, 0, 0]

const gelBlackFit = [12.7, 10.3, 7.6, 5.5, 3.3, 2.0, 0.95, 0.42, 0.15, 0.05, 0.01, 0, 0, 0, 0, 0, 0, 0, 0, 0, 0, 0, 0, 0]
const gelRedFit = [16.5, 15.2, 13.8, 12.6, 11.0, 9.7, 8.4, 7.6, 7.0, 6.45, 5.85, 5.0, 4.2, 3.6, 3.0, 2.55, 2.15, 1.75, 1.4, 1.02, 0.76, 0.52, 0.31, 0.17]
const gelBlueFit = [16.4, 14.5, 12.4, 10.8, 9.0, 7.7, 6.6, 5.95, 5.35, 4.95, 4.5, 3.95, 3.38, 2.95, 2.4, 1.98, 1.6, 1.2, 0.88, 0.6, 0.4, 0.22, 0.1, 0.05]
const gelGreenFit = [14.0, 11.8, 9.5, 7.6, 5.7, 4.9, 4.35, 3.95, 3.5, 3.1, 2.65, 2.15, 1.7, 1.42, 1.1, 0.88, 0.68, 0.45, 0.32, 0.2, 0.13, 0.07, 0.03, 0.01]
const gelOrangeFit = [14.0, 11.0, 7.8, 5.3, 3.4, 2.75, 2.35, 2.1, 1.85, 1.62, 1.42, 1.2, 1.0, 0.86, 0.7, 0.56, 0.4, 0.27, 0.17, 0.1, 0.06, 0.03, 0.01, 0]

const panels = [
  {
    letter: 'a', title: 'Solution', left: 76.7, right: 650.3,
    letterX: 10, titleX: 368, yTitleX: 27, xTitleX: 370, legendX: 425, legendY: 63,
    points: [[solBlack, solBlack2], [solRed, solRed2], [solBlue, solBlue2], [solGreen, solGreen2], [solOrange, solOrange2]],
    fits: [solBlackFit, solRedFit, solBlueFit, solGreenFit, solOrangeFit]
  },
  {
    letter: 'b', title: 'Gel', left: 746, right: 1320,
    letterX: 681, titleX: 1034, yTitleX: 697, xTitleX: 1055, legendX: 1102, legendY: 66,
    points: [[gelBlack, gelBlack2], [gelRed, gelRed2], [gelBlue, gelBlue2], [gelGreen, gelGreen2], [gelOrange, gelOrange2]],
    fits: [gelBlackFit, gelRedFit, gelBlueFit, gelGreenFit, gelOrangeFit]
  }
]

const svg = d3.select('#chart')
const plotTop = 44
const plotBottom = 502.5
const axisColor = '#222'

function pairUp (ts, vals) {
  return ts.map((t, i) => [t, vals[i]]).filter(d => d[1] !== undefined)
}

panels.forEach(p => {
  const x = d3.scaleLinear().domain([-2, 36.35]).range([p.left, p.right])
  const y = d3.scaleLinear().domain([-2, 19.1]).range([plotBottom, plotTop])
  const g = svg.append('g')

  // clip so nothing spills out of the frame
  const clipId = 'clip-' + p.letter
  g.append('clipPath').attr('id', clipId)
    .append('rect')
    .attr('x', p.left).attr('y', plotTop)
    .attr('width', p.right - p.left).attr('height', plotBottom - plotTop)

  const plot = g.append('g').attr('clip-path', `url(#${clipId})`)

  // measured points: black, red, blue, green, orange (orange ends on top)
  p.points.forEach((pair, si) => {
    const pts = pairUp(times, pair[0]).concat(pairUp(times2, pair[1]))
      .sort((a, b) => a[0] - b[0])
    plot.append('g').selectAll('circle')
      .data(pts)
      .join('circle')
      .attr('cx', d => x(d[0]))
      .attr('cy', d => y(d[1]))
      .attr('r', 2.8)
      .attr('fill', '#fff')
      .attr('stroke', seriesColors[si])
      .attr('stroke-width', 1.4)
  })

  // fitted curves, black drawn last
  const line = d3.line()
    .x(d => x(d[0]))
    .y(d => y(d[1]))
    .curve(d3.curveMonotoneX)
  const order = [4, 3, 2, 1, 0]
  order.forEach(si => {
    const pts = fitTimes.map((t, i) => [t, p.fits[si][i]])
    plot.append('path')
      .attr('d', line(pts))
      .attr('fill', 'none')
      .attr('stroke', seriesColors[si])
      .attr('stroke-width', 3.2)
      .attr('stroke-linejoin', 'round')
  })

  // frame
  g.append('rect')
    .attr('x', p.left).attr('y', plotTop)
    .attr('width', p.right - p.left).attr('height', plotBottom - plotTop)
    .attr('fill', 'none')
    .attr('stroke', axisColor)
    .attr('stroke-width', 1.5)

  // x axis
  const xAxis = g.append('g')
    .attr('transform', `translate(0, ${plotBottom})`)
    .call(d3.axisBottom(x).tickValues(xMajor).tickSize(7).tickPadding(6).tickFormat(d3.format('d')))
  xAxis.select('.domain').remove()
  xAxis.selectAll('line').attr('stroke', axisColor).attr('stroke-width', 1.5)
  xAxis.selectAll('text')
    .attr('fill', '#111')
    .style('font-size', '18px')
    .attr('font-family', null)

  const xMinorAxis = g.append('g')
    .attr('transform', `translate(0, ${plotBottom})`)
    .call(d3.axisBottom(x).tickValues(xMinor).tickSize(5).tickFormat(''))
  xMinorAxis.select('.domain').remove()
  xMinorAxis.selectAll('line').attr('stroke', axisColor).attr('stroke-width', 1.5)

  // y axis
  const yAxis = g.append('g')
    .attr('transform', `translate(${p.left}, 0)`)
    .call(d3.axisLeft(y).tickValues(yMajor).tickSize(7).tickPadding(5).tickFormat(d3.format('d')))
  yAxis.select('.domain').remove()
  yAxis.selectAll('line').attr('stroke', axisColor).attr('stroke-width', 1.5)
  yAxis.selectAll('text')
    .attr('fill', '#111')
    .style('font-size', '18px')
    .attr('font-family', null)

  const yMinorAxis = g.append('g')
    .attr('transform', `translate(${p.left}, 0)`)
    .call(d3.axisLeft(y).tickValues(yMinor).tickSize(5).tickFormat(''))
  yMinorAxis.select('.domain').remove()
  yMinorAxis.selectAll('line').attr('stroke', axisColor).attr('stroke-width', 1.5)

  // axis titles
  g.append('text')
    .attr('x', p.xTitleX)
    .attr('y', 560)
    .attr('text-anchor', 'middle')
    .style('font-size', '21.5px')
    .attr('fill', '#111')
    .text('time (ms)')

  g.append('text')
    .attr('transform', `translate(${p.yTitleX}, ${(plotTop + plotBottom) / 2}) rotate(-90)`)
    .attr('text-anchor', 'middle')
    .style('font-size', '22px')
    .attr('fill', '#111')
    .text('signal intensity (a.u.)')

  // panel title and letter
  g.append('text')
    .attr('x', p.titleX)
    .attr('y', 33)
    .attr('text-anchor', 'middle')
    .style('font-size', '22px')
    .style('font-weight', 'bold')
    .text(p.title)

  g.append('text')
    .attr('x', p.letterX)
    .attr('y', 37)
    .style('font-size', '28px')
    .style('font-weight', 'bold')
    .text(p.letter)

  // legend
  const legend = g.append('g')
  seriesNames.forEach((name, si) => {
    const ly = p.legendY + si * 25.8
    legend.append('line')
      .attr('x1', p.legendX).attr('x2', p.legendX + 48)
      .attr('y1', ly).attr('y2', ly)
      .attr('stroke', seriesColors[si])
      .attr('stroke-width', 3.4)
    legend.append('text')
      .attr('x', p.legendX + 54)
      .attr('y', ly)
      .attr('dy', '0.35em')
      .style('font-size', '21px')
      .attr('fill', '#111')
      .text(name)
  })
})
</script>
</body>
</html>
